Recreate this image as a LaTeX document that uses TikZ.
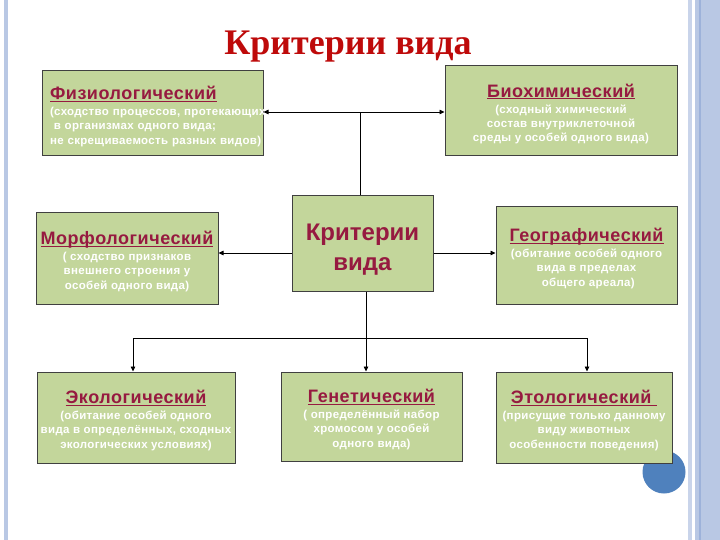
\documentclass[tikz,border=0pt]{standalone}
\usepackage{fontspec}
\setmainfont{Liberation Sans}
\newfontfamily\titlef{Liberation Serif}
\newfontfamily\bodyf{Liberation Sans}[LetterSpace=3]
\usetikzlibrary{arrows.meta}
\definecolor{boxfill}{HTML}{C3D69B}
\definecolor{boxborder}{HTML}{404040}
\definecolor{headc}{HTML}{961A40}
\definecolor{titlec}{HTML}{BE0A0A}
\definecolor{stripeA}{HTML}{B9C8E4}
\definecolor{stripeB}{HTML}{C9D4EA}
\definecolor{stripeC}{HTML}{9DB2DA}
\definecolor{dotc}{HTML}{4F81BD}
\newcommand\hul[1]{\setbox0=\hbox{#1}\rlap{\rule[-2.4pt]{\wd0}{1.3pt}}\box0}
\newcommand\hd[1]{\rule{0pt}{19pt}{\color{headc}\fontsize{18}{14}\selectfont\hul{#1}}}
\tikzset{
  crit/.style={draw=boxborder, line width=1pt, fill=boxfill, inner sep=0pt,
    text=white, font=\bodyf\bfseries\fontsize{11.5}{14.2}\selectfont, align=center},
  arr/.style={draw=black, line width=0.8pt, -{Triangle[length=5pt,width=4.5pt]}},
  lin/.style={draw=black, line width=0.8pt},
}
\begin{document}
\begin{tikzpicture}[x=1pt,y=-1pt]
\fill[white] (0,0) rectangle (720,540);
\useasboundingbox (0,0) rectangle (720,540);
% slide decoration
\fill[stripeA] (4,0) rectangle (8,540);
\fill[stripeB] (688,0) rectangle (692,540);
\fill[stripeA] (695,0) rectangle (720,540);
\fill[stripeC] (698.5,0) rectangle (700.5,540);
\fill[dotc] (664,472) circle (21.5);
% title
\node[anchor=base, font=\titlef\bfseries\fontsize{36}{40}\selectfont, text=titlec] (title) at (348,55) {Критерии вида};
% boxes
\node[crit, minimum width=221, minimum height=85, text width=205, align=left] (b1) at (152.5,113.5)
  {\mbox{\hd{Физиологический}}\\[2pt]\mbox{(сходство процессов, протекающих}\\\mbox{\ в организмах одного вида;}\\\mbox{не скрещиваемость разных видов)}};
\node[crit, minimum width=232, minimum height=90] (b2) at (561,111)
  {\hd{Биохимический}\\[2pt](сходный химический\\состав внутриклеточной\\среды у особей одного вида)};
\node[crit, minimum width=182, minimum height=91] (b3) at (127,258.5)
  {\hd{Морфологический}\\[2pt]( сходство признаков\\внешнего строения у\\особей одного вида)};
\node[crit, minimum width=141, minimum height=95, text=headc, font=\bfseries\fontsize{24}{30}\selectfont] (cc) at (362.5,243.5)
  {\rule{0pt}{29pt}Критерии\\вида};
\node[crit, minimum width=181, minimum height=97] (b5) at (586.5,255.5)
  {\hd{Географический}\\[2pt](обитание особей одного\\вида в пределах\\\ общего ареала)};
\node[crit, minimum width=198, minimum height=91] (b6) at (136,417.5)
  {\hd{Экологический}\\[2pt](обитание особей одного\\вида в определённых, сходных\\экологических условиях)};
\node[crit, minimum width=181, minimum height=89] (b7) at (371.5,416.5)
  {\hd{Генетический}\\[2pt]( определённый набор\\хромосом у особей\\одного вида)};
\node[crit, minimum width=176, minimum height=91] (b8) at (584,417.5)
  {\hd{Этологический\ }\\[2pt](присущие только данному\\виду животных\\особенности поведения)};
% junctions
\coordinate (jt) at (360,112);
\coordinate (ym) at (0,253);
\coordinate (jb) at (366,338);
\coordinate (jl) at (133,338);
\coordinate (jr) at (587,338);
% connectors
\draw[lin] (jt |- cc.north) -- (jt);
\draw[arr] (jt) -- (b1.east |- jt);
\draw[arr] (jt) -- (b2.west |- jt);
\draw[arr] (cc.west |- ym) -- (b3.east |- ym);
\draw[arr] (cc.east |- ym) -- (b5.west |- ym);
\draw[lin] (jb |- cc.south) -- (jb);
\draw[lin] (jl) -- (jr);
\draw[arr] (jl) -- (jl |- b6.north);
\draw[arr] (jb) -- (jb |- b7.north);
\draw[arr] (jr) -- (jr |- b8.north);
\end{tikzpicture}
\end{document}
